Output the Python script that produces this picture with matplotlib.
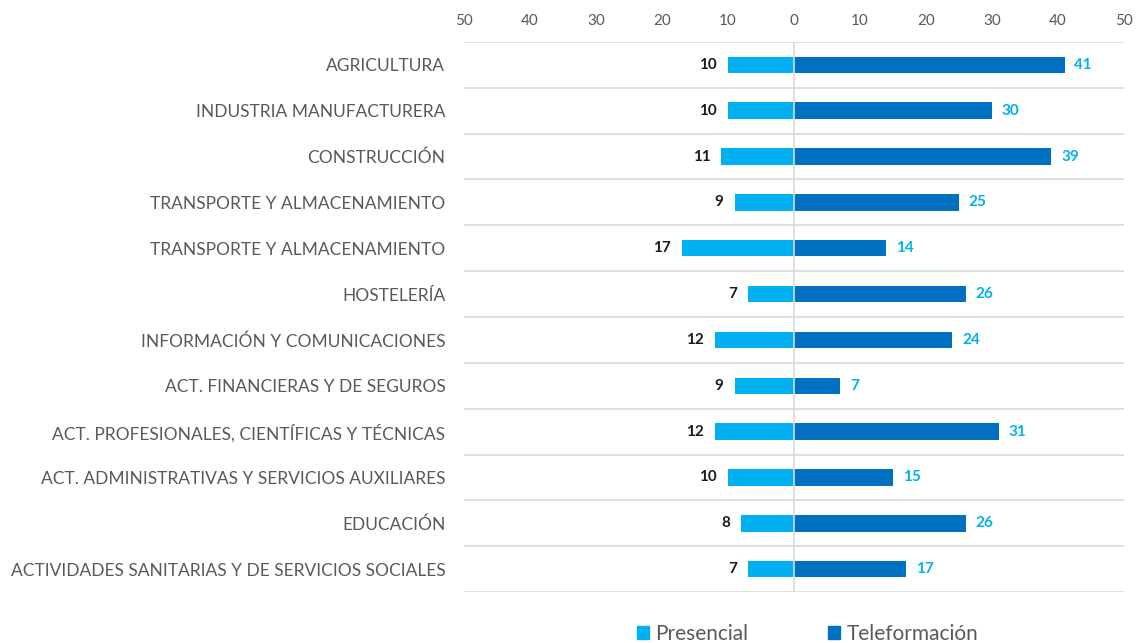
import numpy as np
import matplotlib.pyplot as plt
from matplotlib.patches import Rectangle

sectores = [
    "AGRICULTURA",
    "INDUSTRIA MANUFACTURERA",
    "CONSTRUCCIÓN",
    "TRANSPORTE Y ALMACENAMIENTO",
    "TRANSPORTE Y ALMACENAMIENTO",
    "HOSTELERÍA",
    "INFORMACIÓN Y COMUNICACIONES",
    "ACT. FINANCIERAS Y DE SEGUROS",
    "ACT. PROFESIONALES, CIENTÍFICAS Y TÉCNICAS",
    "ACT. ADMINISTRATIVAS Y SERVICIOS AUXILIARES",
    "EDUCACIÓN",
    "ACTIVIDADES SANITARIAS Y DE SERVICIOS SOCIALES",
]
presencial = [10, 10, 11, 9, 17, 7, 12, 9, 12, 10, 8, 7]
teleformacion = [41, 30, 39, 25, 14, 26, 24, 7, 31, 15, 26, 17]
ticks = [-50, -40, -30, -20, -10, 0, 10, 20, 30, 40, 50]

c_pres = "#00B0F0"
c_tele = "#0070C0"
gris = "#595959"
plt.rcParams["font.family"] = ["Lato", "DejaVu Sans"]

fig = plt.figure(figsize=(11.39, 6.43), dpi=100)
ax = fig.add_axes([0.4074, 0.0793, 0.5795, 0.8554])

y = np.arange(len(sectores))
ax.barh(y, [-v for v in presencial], height=0.36, color=c_pres)
ax.barh(y, teleformacion, height=0.36, color=c_tele)

for i, (p, t) in enumerate(zip(presencial, teleformacion)):
    ax.annotate(str(p), (-p, i), xytext=(-8, 0), textcoords="offset points",
                ha="right", va="center", fontsize=11, fontweight="bold", color="#1a1a1a")
    ax.annotate(str(t), (t, i), xytext=(7, 0), textcoords="offset points",
                ha="left", va="center", fontsize=11, fontweight="bold", color=c_pres)

ax.set_xlim(-50, 50)
ax.set_ylim(len(sectores) - 0.5, -0.5)

# separadores entre sectores y eje cero
for k in range(len(sectores) + 1):
    ax.axhline(k - 0.5, color="#D9D9D9", lw=1.2, zorder=0)
ax.axvline(0, color="#D9D9D9", lw=1.2, zorder=3)

ax.xaxis.tick_top()
ax.set_xticks(ticks)
ax.set_xticklabels([str(abs(t)) for t in ticks], fontsize=11, color=gris)
ax.set_yticks(y)
ax.set_yticklabels(sectores, fontsize=12.5, color=gris)
ax.tick_params(length=0, axis="x", pad=10)
ax.tick_params(length=0, axis="y", pad=13.5)
for s in ax.spines.values():
    s.set_visible(False)

# leyenda inferior
handles = [Rectangle((0, 0), 1, 1, color=c_pres), Rectangle((0, 0), 1, 1, color=c_tele)]
fig.legend(handles, ["Presencial", "Teleformación"], loc="lower center",
           bbox_to_anchor=(0.709, -0.03), ncol=2, frameon=False, fontsize=15,
           handlelength=0.6, handleheight=0.6, handletextpad=0.3, columnspacing=3.8,
           labelcolor=gris)

fig.savefig("out.png", dpi=100)
